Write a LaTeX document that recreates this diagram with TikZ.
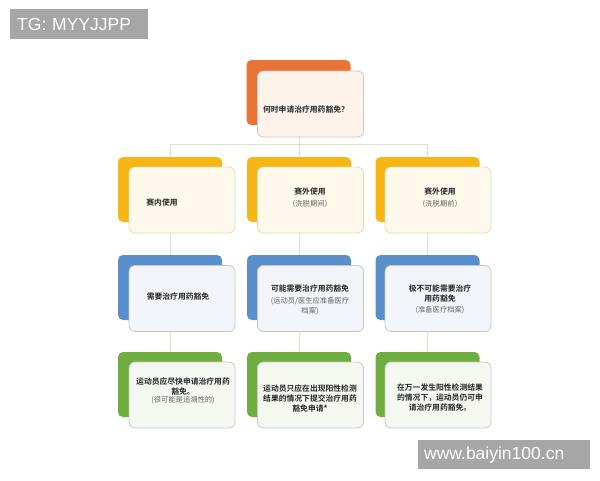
\documentclass[tikz,border=0pt]{standalone}
\usepackage{fontspec}
\setsansfont{Liberation Sans}
\newfontfamily\cjk{Noto Sans CJK SC}
\newfontfamily\cjkb{Noto Sans CJK SC Bold}
\begin{document}
\begin{tikzpicture}[x=1pt,y=-1pt,
  back/.style={rounded corners=5pt, minimum width=104pt, minimum height=65pt, inner sep=0pt},
  front/.style={rounded corners=6pt, minimum width=106pt, minimum height=66pt, inner sep=0pt, line width=0.8pt},
  conn/.style={draw=lineC, line width=0.8pt},
  main/.style={font=\cjkb\fontsize{7.8}{10}\selectfont, text=black!85, align=center, inner sep=0pt},
  sub/.style={font=\cjk\fontsize{7.3}{10}\selectfont, text=black!60, align=center, inner sep=0pt},
  wm/.style={fill=wmgray, text=white, font=\sffamily\fontsize{17.5}{18}\selectfont, inner sep=0pt, anchor=north west}
]
\definecolor{orangeC}{HTML}{E97336}
\definecolor{yellowC}{HTML}{F6B716}
\definecolor{blueC}{HTML}{5B8FCC}
\definecolor{greenC}{HTML}{6EAD3E}
\definecolor{lineC}{HTML}{DCE2C2}
\definecolor{wmgray}{HTML}{A6A6A6}
\useasboundingbox[fill=white] (0,0) rectangle (600,480);

% top
\node[back, fill=orangeC] (topb) at (298.5,92.5) {};
\node[front, fill={rgb,255:red,253;green,243;blue,235}, draw={rgb,255:red,205;green,200;blue,195}] (topf) at (310.5,104) {};
\node[main] (toptxt) at (306,110) {何时申请治疗用药豁免？};

% rows
\foreach \n/\bx/\fx in {a/170/182, b/299/310.5, c/427.5/438}{
  \node[back, fill=yellowC] (r1b\n) at (\bx,189.5) {};
  \node[front, fill={rgb,255:red,254;green,249;blue,235}, draw={rgb,255:red,222;green,222;blue,185}] (r1f\n) at (\fx,200) {};
  \node[back, fill=blueC] (r2b\n) at (\bx,287.5) {};
  \node[front, fill={rgb,255:red,242;green,245;blue,249}, draw={rgb,255:red,195;green,198;blue,202}] (r2f\n) at (\fx,298.5) {};
  \node[back, fill=greenC] (r3b\n) at (\bx,384.5) {};
  \node[front, fill={rgb,255:red,245;green,248;blue,240}, draw={rgb,255:red,198;green,202;blue,195}] (r3f\n) at (\fx,395) {};
}

% connectors
\coordinate (j) at (299,144);
\draw[conn] (topf.south -| j) -- (j);
\draw[conn] (r1ba.north) -- (r1ba.north |- j) -- (r1bc.north |- j) -- (r1bc.north);
\draw[conn] (j) -- (r1bb.north);
\foreach \n in {a,b,c}{
  \draw[conn] (r1f\n.south -| r1b\n.north) -- (r2b\n.north);
  \draw[conn] (r2f\n.south -| r2b\n.north) -- (r3b\n.north);
}

% row 1 texts
\node[main] (t1a) at (162,202) {赛内使用};
\node[main] (t1b) at (310,192) {赛外使用};
\node[sub] (s1b) at (310,203.5) {（洗脱期间）};
\node[main] (t1c) at (440,192) {赛外使用};
\node[sub] (s1c) at (440,203.5) {（洗脱期前）};

% row 2 texts
\node[main] (t2a) at (178,297) {需要治疗用药豁免};
\node[main] (t2b) at (310,289) {可能需要治疗用药豁免};
\node[sub] (s2b) at (310,306) {(运动员/医生应准备医疗\\档案)};
\node[main] (t2c) at (440,293.5) {极不可能需要治疗\\用药豁免};
\node[sub] (s2c) at (440,310) {(准备医疗档案)};

% row 3 texts
\node[main] (t3a) at (183,386) {运动员应尽快申请治疗用药\\豁免。};
\node[sub] (s3a) at (183,400.5) {(很可能是追溯性的)};
\node[main] (t3b) at (310,398) {运动员只应在出现阳性检测\\结果的情况下提交治疗用药\\豁免申请*};
\node[main] (t3c) at (440,398) {在万一发生阳性检测结果\\的情况下，运动员仍可申\\请治疗用药豁免。};

% watermarks
\node[wm, minimum width=138pt, minimum height=30pt, text width=132pt, align=left] (wm1) at (10,9) {\hspace*{4pt}TG: MYYJJPP};
\node[wm, minimum width=172pt, minimum height=29pt, text width=168pt, align=left] (wm2) at (418,440) {\hspace*{4pt}www.baiyin100.cn};
\end{tikzpicture}
\end{document}
